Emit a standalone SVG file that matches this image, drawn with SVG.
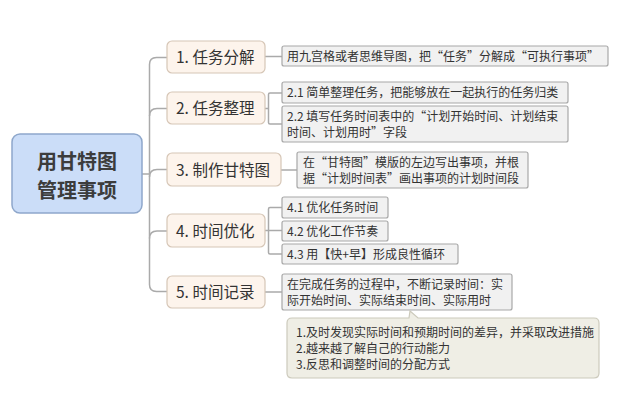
<svg xmlns="http://www.w3.org/2000/svg" width="620" height="418" viewBox="0 0 620 418">
<style>
text{font-family:"Microsoft YaHei","Noto Sans CJK SC","Noto Sans",sans-serif;fill:#333333}
.root rect{fill:#cbddf8;stroke:#8ea7cb;stroke-width:1.5}
.root text{font-size:20px;font-weight:bold;fill:#3c3c3c;text-anchor:middle}
.l1 rect{fill:#fdf4ec;stroke:#d6c6b6;stroke-width:1.2}
.l1 text{font-size:15.5px}
.l2 rect{fill:#f1f1f1;stroke:#a8a8a8;stroke-width:1.2}
.l2 text,.note text{font-size:12px}
.note path{fill:#efeee5;stroke:#cccabc;stroke-width:1.2}
#connectors path{fill:none;stroke:#aaaaaa;stroke-width:1.5}
</style>
<rect width="620" height="418" fill="#ffffff"/>
<g id="connectors">
<path d="M142,174 H149.5"/>
<path d="M167,57.5 H156.5 Q149.5,57.5 149.5,64.5 V284.5 Q149.5,291.5 156.5,291.5 H167"/>
<path d="M149.5,116 Q149.5,108.5 157,108.5 H167"/>
<path d="M149.5,177 Q149.5,169.5 157,169.5 H167"/>
<path d="M149.5,238.5 Q149.5,231 157,231 H167"/>
<path d="M265,56.5 H282"/>
<path d="M265,108.5 H268.5"/>
<path d="M282,93 H270 Q268.5,93 268.5,94.5 V122.5 Q268.5,124 270,124 H282"/>
<path d="M281,170 H297"/>
<path d="M265,230.5 H282"/>
<path d="M282,207.5 H270 Q268.5,207.5 268.5,209 V252.5 Q268.5,254 270,254 H282"/>
<path d="M265,292 H282"/>
</g>
<g id="root" class="root">
<rect x="12" y="134" width="130" height="79" rx="8"/>
<text x="77" y="168.5">用甘特图</text>
<text x="77" y="197.5">管理事项</text>
</g>
<g id="n1" class="l1">
<rect x="167" y="41" width="98" height="32" rx="5"/>
<text x="176" y="63">1. 任务分解</text>
</g>
<g id="n2" class="l1">
<rect x="167" y="92" width="98" height="32" rx="5"/>
<text x="176" y="114">2. 任务整理</text>
</g>
<g id="n3" class="l1">
<rect x="167" y="153" width="114" height="33" rx="5"/>
<text x="176" y="175.5">3. 制作甘特图</text>
</g>
<g id="n4" class="l1">
<rect x="167" y="214" width="98" height="33" rx="5"/>
<text x="176" y="236.5">4. 时间优化</text>
</g>
<g id="n5" class="l1">
<rect x="167" y="276" width="98" height="32" rx="5"/>
<text x="176" y="298">5. 时间记录</text>
</g>
<g id="n1a" class="l2">
<rect x="282" y="46" width="326" height="20" rx="2"/>
<text x="287" y="60.5">用九宫格或者思维导图，把“任务”分解成“可执行事项”</text>
</g>
<g id="n2a" class="l2">
<rect x="282" y="82" width="286" height="21" rx="2"/>
<text x="287" y="97">2.1 简单整理任务，把能够放在一起执行的任务归类</text>
</g>
<g id="n2b" class="l2">
<rect x="282" y="106" width="286" height="36" rx="2"/>
<text x="287" y="120.5">2.2 填写任务时间表中的“计划开始时间、计划结束</text>
<text x="287" y="136.5">时间、计划用时”字段</text>
</g>
<g id="n3a" class="l2">
<rect x="297" y="152" width="231" height="36" rx="2"/>
<text x="303" y="166.5">在“甘特图”模版的左边写出事项，并根</text>
<text x="303" y="182.5">据“计划时间表”画出事项的计划时间段</text>
</g>
<g id="n4a" class="l2">
<rect x="282" y="197" width="106" height="21" rx="2"/>
<text x="287" y="212">4.1 优化任务时间</text>
</g>
<g id="n4b" class="l2">
<rect x="282" y="221" width="106" height="20" rx="2"/>
<text x="287" y="235.5">4.2 优化工作节奏</text>
</g>
<g id="n4c" class="l2">
<rect x="282" y="244" width="176" height="20" rx="2"/>
<text x="287" y="258.5">4.3 用【快+早】形成良性循环</text>
</g>
<g id="n5a" class="l2">
<rect x="282" y="274" width="230" height="36" rx="2"/>
<text x="287" y="289">在完成任务的过程中，不断记录时间：实</text>
<text x="287" y="304.5">际开始时间、实际结束时间、实际用时</text>
</g>
<g id="note" class="note">
<path d="M292,318 H409 L410,311 L418,318 H594 Q599,318 599,323 V373 Q599,378 594,378 H292 Q287,378 287,373 V323 Q287,318 292,318 Z"/>
<text x="296" y="337">1.及时发现实际时间和预期时间的差异，并采取改进措施</text>
<text x="296" y="353">2.越来越了解自己的行动能力</text>
<text x="296" y="369">3.反思和调整时间的分配方式</text>
</g>
</svg>
